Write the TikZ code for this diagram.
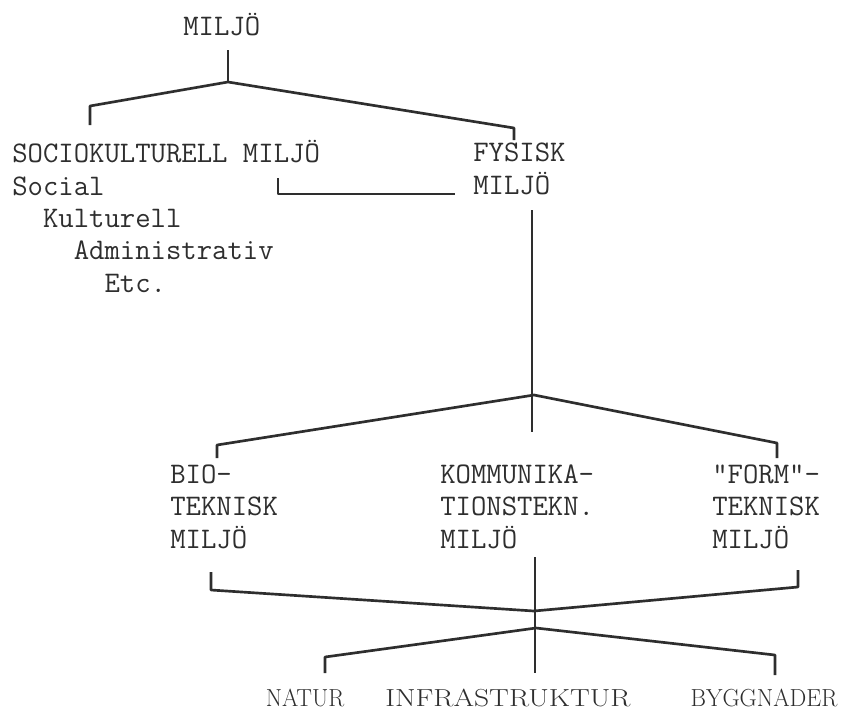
\documentclass[tikz,border=0pt]{standalone}
\usepackage{fontspec}
\usepackage{graphicx}
\definecolor{ink}{HTML}{2E2E2E}

\begin{document}
\begin{tikzpicture}[x=0.75pt,y=-0.75pt,
  lbl/.style={inner sep=0pt,anchor=base west,align=left,text=ink,font=\fontsize{22.4}{24.2}\selectfont\ttfamily},
  leaf/.style={inner sep=0pt,anchor=base,text=ink,font=\fontsize{18.5}{22}\selectfont},
  branch/.style={draw=ink,line width=2pt,line join=round},
  trunk/.style={draw=ink,line width=1.1pt}]
\useasboundingbox (0,0) rectangle (841,711);
% labels (base = baseline of the last line)
\node[lbl] (miljo) at (183,35) {MILJÖ};
\node[lbl] (socio) at (12,292) {SOCIOKULTURELL MILJÖ\\Social\\\phantom{xx}Kulturell\\\phantom{xxxx}Administrativ\\\phantom{xxxxxx}Etc.};
\node[lbl] (fysisk) at (473,194) {FYSISK\\MILJÖ};
\node[lbl] (bio) at (170,548) {BIO-\\TEKNISK\\MILJÖ};
\node[lbl] (komm) at (440,548) {KOMMUNIKA-\\TIONSTEKN.\\MILJÖ};
\node[lbl] (form) at (712,548) {"FORM"-\\TEKNISK\\MILJÖ};
\node[leaf] (natur) at (305,706) {\scalebox{0.95}[1]{NATUR}};
\node[leaf] (infra) at (508,706) {\scalebox{1.2}[1]{INFRASTRUKTUR}};
\node[leaf] (bygg) at (764,706) {\scalebox{0.96}[1]{BYGGNADER}};
% junctions and stub ends
\coordinate (j1) at (228,82);
\coordinate (j2) at (534,395);
\coordinate (j3) at (534,611);
\coordinate (j4) at (536,628);
\coordinate (s1) at (90,125);
\coordinate (s2) at (514,140);
\coordinate (s3) at (278,178);
\coordinate (s4) at (217,458);
\coordinate (s5) at (777,458);
\coordinate (s6) at (211,572);
\coordinate (s7) at (798,570);
\coordinate (s8) at (325,673);
\coordinate (s9) at (775,675);
% connectors
\draw[trunk] (j1) -- ++(0,-32);
\draw[branch] (s1) -- ++(0,-19) -- (j1) -- (514,128) -- (s2);
\draw[branch] (s3) -- ++(0,16) -- (455,194);
\draw[trunk] (532,210) -- (532,432);
\draw[branch] (s4) -- ++(0,-13) -- (j2) -- (777,443) -- (s5);
\draw[trunk] (535,557) -- (535,673);
\draw[branch] (s6) -- ++(0,18) -- (j3) -- (798,587) -- (s7);
\draw[branch] (s8) -- ++(0,-16) -- (j4) -- (775,655) -- (s9);
\end{tikzpicture}
\end{document}
